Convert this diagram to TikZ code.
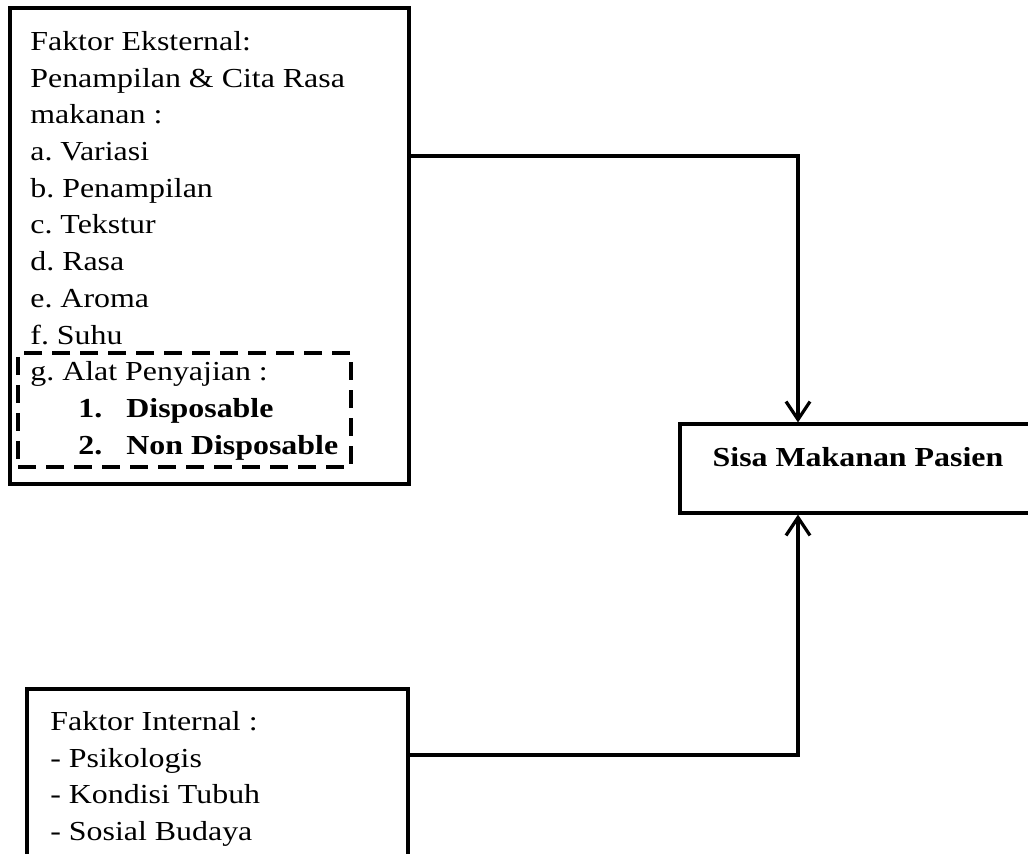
\documentclass[tikz,border=0pt]{standalone}
\usepackage{fontspec}
\setmainfont{Liberation Serif}[FakeStretch=1.16]
\usetikzlibrary{arrows.meta}
\frenchspacing
\begin{document}
\begin{tikzpicture}[x=0.5pt, y=-0.5pt,
    every node/.style={font=\fontsize{13.75}{18.35}\selectfont},
    box/.style={draw, line width=1.6pt, inner sep=0pt},
    txt/.style={anchor=north west, inner sep=0pt, align=left},
    conn/.style={line width=1.7pt, -{Straight Barb[length=9pt, width=12pt, line width=1.6pt]}}]
      \useasboundingbox (0,0) rectangle (1028,854);
      \node[box, minimum width=199.5pt, minimum height=238pt] (ext) at (209.5,246){};
      \node[box, dashed, dash pattern=on 9pt off 5pt, line width=2pt, minimum width=166.5pt, minimum height=57pt] (tray) at (184.5,410){};
      \node[box, minimum width=182.5pt, minimum height=44.5pt] (sisa) at (862.5,468.5){};
      \node[box, minimum width=190.5pt, minimum height=92pt] (int) at (217.5,781){};
      \node[txt] (extlist) at (30,31){Faktor Eksternal:\\
        Penampilan \& Cita Rasa\\
        makanan :\\
        a. Variasi\\
        b. Penampilan\\
        c. Tekstur\\
        d. Rasa\\
        e. Aroma\\
        f. Suhu\\
        g. Alat Penyajian :\\
        \hspace*{24pt}\makebox[24pt][l]{\textbf{1.}}\textbf{Disposable}\\
        \hspace*{24pt}\makebox[24pt][l]{\textbf{2.}}\textbf{Non Disposable}};
      \node[txt] (intlist) at (50,711){Faktor Internal :\\
        - Psikologis\\
        - Kondisi Tubuh\\
        - Sosial Budaya};
      \node[anchor=base, inner sep=0pt, font=\fontsize{13.75}{18.35}\selectfont\bfseries] (sisatext) at (858,467){Sisa Makanan Pasien};
      \coordinate (jt) at (798,156);
      \coordinate (jb) at (798,755);
      \draw[conn] (ext.east |- jt) -| (sisa.north -| jt);
      \draw[conn] (int.east |- jb) -| (sisa.south -| jb);

    \end{tikzpicture}
\end{document}
